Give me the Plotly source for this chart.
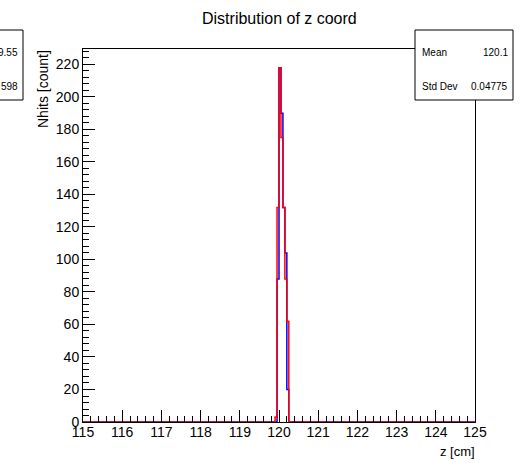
import plotly.graph_objects as go

# Bin edges (cm) and counts
blue_edges = [115.0, 119.95, 120.0, 120.05, 120.1, 120.15, 120.2, 120.25, 125.0]
blue_counts = [0, 88, 218, 190, 132, 104, 20, 0]

red_edges = [115.0, 119.9, 119.95, 120.0, 120.05, 120.1, 120.15, 120.2, 120.25, 125.0]
red_counts = [0, 3, 132, 218, 175, 132, 88, 62, 0]

title = "Distribution of z coord"
x_title = "z [cm]"
y_title = "Nhits [count]"
stats_right = [("Mean", "120.1"), ("Std Dev", "0.04775")]
stats_left = ["9.55", "598"]

def step(edges, counts):
    xs, ys = [], []
    for i, c in enumerate(counts):
        xs += [edges[i], edges[i + 1]]
        ys += [c, c]
    return xs, ys

fig = go.Figure()
rx, ry = step(red_edges, red_counts)
bx, by = step(blue_edges, blue_counts)
fig.add_trace(go.Scatter(x=bx, y=by, mode="lines", line=dict(color="#0000ff", width=1.5), hoverinfo="skip"))
fig.add_trace(go.Scatter(x=rx, y=ry, mode="lines", line=dict(color="#ff0000", width=1.5), hoverinfo="skip"))

L, R, T, B = 83, 53, 49, 41
W, H = 528, 463
pw, ph = W - L - R, H - T - B

def px(x):
    return (x - L) / pw

def py(y):
    return (H - B - y) / ph

font = "Liberation Sans, Arial, sans-serif"

fig.update_layout(
    width=W, height=H,
    margin=dict(l=L, r=R, t=T, b=B),
    paper_bgcolor="white", plot_bgcolor="white",
    showlegend=False,
    font=dict(family=font, color="black", size=14),
    xaxis=dict(range=[115, 125], showgrid=False, zeroline=False,
               showline=True, linecolor="black", linewidth=1, mirror=True,
               ticks="inside", ticklen=12, tickcolor="black", dtick=1, tick0=115,
               minor=dict(ticks="inside", ticklen=6, dtick=0.2, tickcolor="black", showgrid=False),
               tickfont=dict(size=14), ticklabelstandoff=-3),
    yaxis=dict(range=[0, 229.5], showgrid=False, zeroline=False,
               showline=True, linecolor="black", linewidth=1, mirror=True,
               ticks="inside", ticklen=12, tickcolor="black", dtick=20, tick0=0,
               minor=dict(ticks="inside", ticklen=6, dtick=4, tickcolor="black", showgrid=False),
               tickfont=dict(size=14)),
)

ann = []
ann.append(dict(text=title, x=0.5, y=py(19), xref="paper", yref="paper",
                showarrow=False, font=dict(size=16), xanchor="center", yanchor="middle"))
ann.append(dict(text=x_title, x=px(477), y=py(451), xref="paper", yref="paper",
                showarrow=False, font=dict(size=13), xanchor="right", yanchor="middle"))
ann.append(dict(text=y_title, x=px(43), y=py(48), xref="paper", yref="paper", textangle=-90,
                showarrow=False, font=dict(size=14), xanchor="center", yanchor="top"))

# right stats box
fig.add_shape(type="rect", xref="paper", yref="paper", x0=px(415), x1=px(513), y0=py(100), y1=py(30),
              line=dict(color="black", width=1), fillcolor="white", layer="above")
for i, (k, v) in enumerate(stats_right):
    yy = py(52 + 35 * i)
    ann.append(dict(text=k, x=px(420), y=yy, xref="paper", yref="paper", showarrow=False,
                    font=dict(size=10), xanchor="left", yanchor="middle"))
    ann.append(dict(text=v, x=px(510), y=yy, xref="paper", yref="paper", showarrow=False,
                    font=dict(size=10), xanchor="right", yanchor="middle"))

# left partial stats box
fig.add_shape(type="rect", xref="paper", yref="paper", x0=px(-10), x1=px(23), y0=py(100), y1=py(30),
              line=dict(color="black", width=1), fillcolor="white", layer="above")
for i, v in enumerate(stats_left):
    ann.append(dict(text=v, x=px(20), y=py(52 + 35 * i), xref="paper", yref="paper", showarrow=False,
                    font=dict(size=10), xanchor="right", yanchor="middle"))

fig.update_layout(annotations=ann)
fig.write_html("out.html")
